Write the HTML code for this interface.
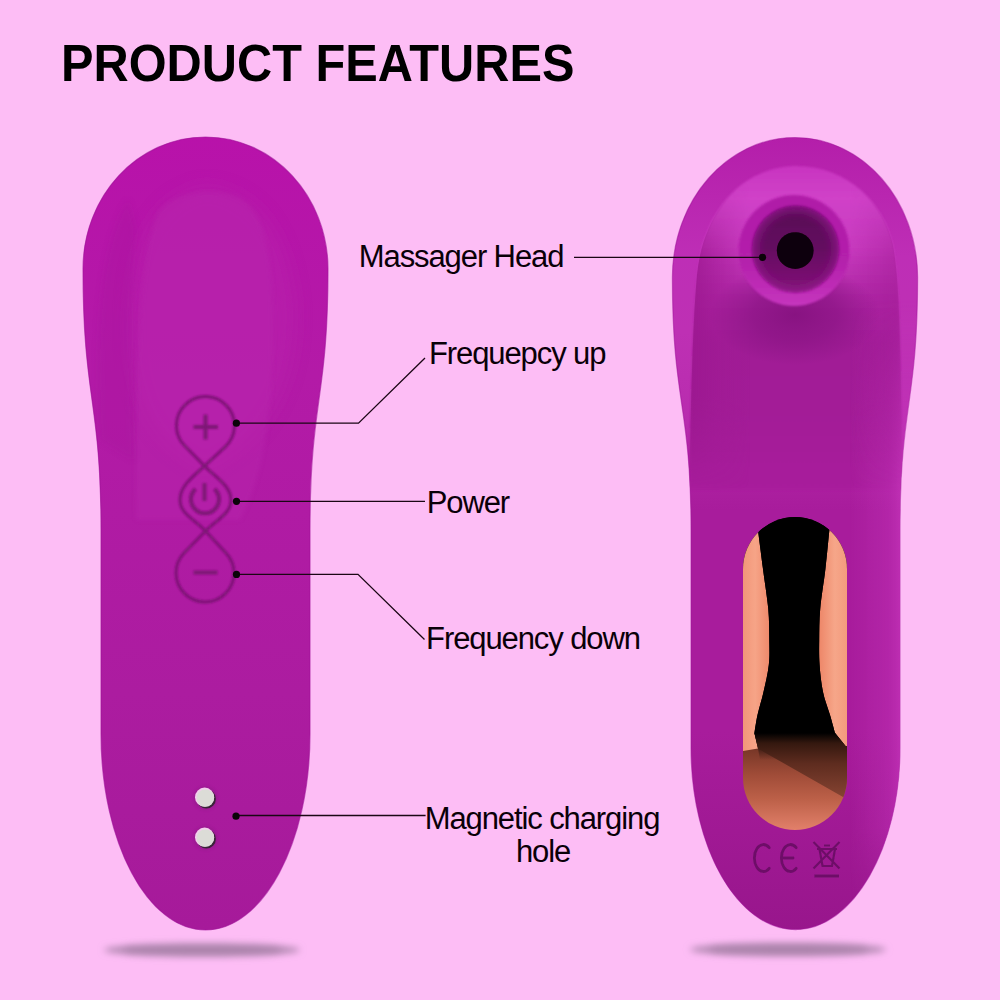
<!DOCTYPE html>
<html><head><meta charset="utf-8"><style>
html,body{margin:0;padding:0;width:1000px;height:1000px;overflow:hidden;background:#fdbdf5;}
.t{position:absolute;left:61.1px;top:36.9px;font:bold 52px/1 'Liberation Sans', sans-serif;color:#000;white-space:nowrap;transform:scaleX(0.937);transform-origin:0 0;}
.lb{position:absolute;font:31px/1 'Liberation Sans', sans-serif;letter-spacing:-1.1px;color:#0a0008;white-space:nowrap;}
svg{position:absolute;left:0;top:0;}
</style></head><body>
<svg width="1000" height="1000" viewBox="0 0 1000 1000">
<defs>
 <filter id="sh" x="-50%" y="-300%" width="200%" height="700%"><feGaussianBlur stdDeviation="3.5"/></filter>
 <filter id="b3" x="-30%" y="-30%" width="160%" height="160%"><feGaussianBlur stdDeviation="3"/></filter>
 <filter id="b2" x="-30%" y="-30%" width="160%" height="160%"><feGaussianBlur stdDeviation="2"/></filter>
 <filter id="b05" x="-30%" y="-30%" width="160%" height="160%"><feGaussianBlur stdDeviation="0.5"/></filter>
 <filter id="b15" x="-50%" y="-50%" width="200%" height="200%"><feGaussianBlur stdDeviation="1.5"/></filter>
 <filter id="b1" x="-50%" y="-50%" width="200%" height="200%"><feGaussianBlur stdDeviation="0.8"/></filter>
 <filter id="b8" x="-50%" y="-50%" width="200%" height="200%"><feGaussianBlur stdDeviation="8"/></filter>
 <linearGradient id="lg" x1="0" y1="137" x2="0" y2="930" gradientUnits="userSpaceOnUse">
  <stop offset="0" stop-color="#b812aa"/><stop offset="0.3" stop-color="#b31aa7"/><stop offset="0.7" stop-color="#ac1ca0"/><stop offset="1" stop-color="#a61a9a"/>
 </linearGradient>
 <linearGradient id="rg" x1="0" y1="137" x2="0" y2="930" gradientUnits="userSpaceOnUse">
  <stop offset="0" stop-color="#b41eaa"/><stop offset="0.15" stop-color="#be2eb6"/><stop offset="0.245" stop-color="#be30b4"/><stop offset="0.36" stop-color="#b82cae"/><stop offset="0.42" stop-color="#ae22a2"/><stop offset="0.47" stop-color="#a81c9c"/><stop offset="0.75" stop-color="#a81c9c"/><stop offset="1" stop-color="#98168c"/>
 </linearGradient>
 <linearGradient id="lipg" x1="0" y1="166" x2="0" y2="490" gradientUnits="userSpaceOnUse">
  <stop offset="0" stop-color="#c834c0"/><stop offset="0.1" stop-color="#d042c8"/><stop offset="0.25" stop-color="#c83abf"/><stop offset="0.4" stop-color="#b028a6"/><stop offset="0.55" stop-color="#a01c96"/><stop offset="0.8" stop-color="#a41b98"/><stop offset="1" stop-color="#a81c9c"/>
 </linearGradient>
 <linearGradient id="ringO" x1="0" y1="195" x2="0" y2="307" gradientUnits="userSpaceOnUse">
  <stop offset="0" stop-color="#b01ea8"/><stop offset="0.6" stop-color="#b420ac"/><stop offset="1" stop-color="#c636be"/>
 </linearGradient>
 <radialGradient id="darkblob" cx="0.5" cy="0.5" r="0.5">
  <stop offset="0" stop-color="#861280" stop-opacity="0.95"/><stop offset="0.5" stop-color="#8a1484" stop-opacity="0.7"/><stop offset="1" stop-color="#8a1484" stop-opacity="0"/>
 </radialGradient>
 <linearGradient id="rhl" x1="850" y1="0" x2="902" y2="0" gradientUnits="userSpaceOnUse">
  <stop offset="0" stop-color="#c232b8" stop-opacity="0"/><stop offset="0.75" stop-color="#c232b8" stop-opacity="0.45"/><stop offset="1" stop-color="#c838be" stop-opacity="0.7"/>
 </linearGradient>
 <linearGradient id="lsh" x1="690" y1="0" x2="725" y2="0" gradientUnits="userSpaceOnUse">
  <stop offset="0" stop-color="#8e1484" stop-opacity="0.5"/><stop offset="1" stop-color="#8e1484" stop-opacity="0"/>
 </linearGradient>
 <linearGradient id="ringL" x1="0" y1="206" x2="0" y2="292" gradientUnits="userSpaceOnUse">
  <stop offset="0" stop-color="#560654"/><stop offset="0.5" stop-color="#640a60"/><stop offset="1" stop-color="#821478"/>
 </linearGradient>
 <radialGradient id="ring" cx="795.5" cy="249.2" r="43" gradientUnits="userSpaceOnUse">
  <stop offset="0.7" stop-color="#7a0e74" stop-opacity="0"/><stop offset="1" stop-color="#9a1894" stop-opacity="0.7"/>
 </radialGradient>
 <linearGradient id="floor" x1="0" y1="733" x2="0" y2="830" gradientUnits="userSpaceOnUse">
  <stop offset="0" stop-color="#000"/><stop offset="0.18" stop-color="#7a3828"/><stop offset="0.43" stop-color="#a04c38"/><stop offset="0.68" stop-color="#bc6048"/><stop offset="1" stop-color="#e2806a"/>
 </linearGradient>
 <linearGradient id="floorD" x1="0" y1="733" x2="0" y2="801" gradientUnits="userSpaceOnUse">
  <stop offset="0" stop-color="#000"/><stop offset="0.15" stop-color="#34180f"/><stop offset="0.45" stop-color="#5e2c1f"/><stop offset="1" stop-color="#8a4634"/>
 </linearGradient>
 <linearGradient id="blk" x1="0" y1="500" x2="0" y2="760" gradientUnits="userSpaceOnUse">
  <stop offset="0" stop-color="#000"/><stop offset="0.9" stop-color="#000"/><stop offset="1" stop-color="#000" stop-opacity="0"/>
 </linearGradient>
 <linearGradient id="peachL" x1="743" y1="0" x2="770" y2="0" gradientUnits="userSpaceOnUse">
  <stop offset="0" stop-color="#f29679"/><stop offset="0.45" stop-color="#f6a487"/><stop offset="1" stop-color="#ee886a"/>
 </linearGradient>
 <linearGradient id="peachR" x1="820" y1="0" x2="847" y2="0" gradientUnits="userSpaceOnUse">
  <stop offset="0" stop-color="#ee886a"/><stop offset="0.55" stop-color="#f6a689"/><stop offset="1" stop-color="#f39a7d"/>
 </linearGradient>
 <radialGradient id="mag" cx="0.42" cy="0.4" r="0.62">
  <stop offset="0" stop-color="#f4f2ee"/><stop offset="0.65" stop-color="#dcd8d4"/><stop offset="0.85" stop-color="#a89ca4"/><stop offset="1" stop-color="#5a4658"/>
 </radialGradient>
 <linearGradient id="vm" x1="0" y1="300" x2="0" y2="920" gradientUnits="userSpaceOnUse">
  <stop offset="0" stop-color="#fff" stop-opacity="0"/><stop offset="0.3" stop-color="#fff" stop-opacity="1"/><stop offset="0.85" stop-color="#fff" stop-opacity="1"/><stop offset="1" stop-color="#fff" stop-opacity="0"/>
 </linearGradient>
 <mask id="vmask" maskUnits="userSpaceOnUse" x="0" y="0" width="1000" height="1000"><rect x="0" y="300" width="1000" height="620" fill="url(#vm)"/></mask>
 <clipPath id="lipclip"><path d="M689,490 C691,420 692,330 697,275 C702,220 735,168 795,166 C850,166 884,205 893,245 C900,285 900,340 903,490 Z"/></clipPath>
 <linearGradient id="sideL" x1="694" y1="0" x2="750" y2="0" gradientUnits="userSpaceOnUse">
  <stop offset="0" stop-color="#9c1890" stop-opacity="0.85"/><stop offset="0.5" stop-color="#a01a94" stop-opacity="0.45"/><stop offset="1" stop-color="#a01a94" stop-opacity="0"/>
 </linearGradient>
 <linearGradient id="sideR" x1="900" y1="0" x2="850" y2="0" gradientUnits="userSpaceOnUse">
  <stop offset="0" stop-color="#a41c98" stop-opacity="0.6"/><stop offset="0.5" stop-color="#a41c98" stop-opacity="0.3"/><stop offset="1" stop-color="#a41c98" stop-opacity="0"/>
 </linearGradient>
 <linearGradient id="sm" x1="0" y1="180" x2="0" y2="490" gradientUnits="userSpaceOnUse">
  <stop offset="0" stop-color="#fff" stop-opacity="0"/><stop offset="0.25" stop-color="#fff" stop-opacity="1"/><stop offset="0.7" stop-color="#fff" stop-opacity="1"/><stop offset="1" stop-color="#fff" stop-opacity="0"/>
 </linearGradient>
 <mask id="smask" maskUnits="userSpaceOnUse" x="0" y="0" width="1000" height="1000"><rect x="0" y="150" width="1000" height="360" fill="url(#sm)"/></mask>
 <clipPath id="win"><rect x="743" y="517" width="104" height="313" rx="52" ry="52"/></clipPath>
 <clipPath id="rclip"><path d="M672.4,277.5 C672.4,200.2 727.3,137.5 795.0,137.5 C862.7,137.5 917.6,200.2 917.6,277.5 C917.6,403.8 900.0,403.8 900.0,530.0 L900.0,747.6 C900.0,848.1 853.2,929.6 795.5,929.6 C737.8,929.6 691.0,848.1 691.0,747.6 L691.0,530.0 C691.0,403.8 672.4,403.8 672.4,277.5Z"/></clipPath>
 <clipPath id="lclip"><path d="M83.0,269.0 C83.0,196.1 137.8,137.0 205.5,137.0 C273.2,137.0 328.0,196.1 328.0,269.0 C328.0,399.5 310.0,399.5 310.0,530.0 L310.0,734.0 C310.0,842.3 263.2,930.0 205.5,930.0 C147.8,930.0 101.0,842.3 101.0,734.0 L101.0,530.0 C101.0,399.5 83.0,399.5 83.0,269.0Z"/></clipPath>
</defs>
<!-- shadows -->
<ellipse cx="202" cy="950" rx="98" ry="6.5" fill="#ae86ae" filter="url(#sh)"/><rect x="125" y="946" width="155" height="8" rx="4" fill="#a47ca4" opacity="0.35" filter="url(#sh)"/>
<ellipse cx="788" cy="949.5" rx="98" ry="6.5" fill="#ae86ae" filter="url(#sh)"/><rect x="711" y="945.5" width="155" height="8" rx="4" fill="#a47ca4" opacity="0.35" filter="url(#sh)"/>
<!-- left device -->
<path d="M83.0,269.0 C83.0,196.1 137.8,137.0 205.5,137.0 C273.2,137.0 328.0,196.1 328.0,269.0 C328.0,399.5 310.0,399.5 310.0,530.0 L310.0,734.0 C310.0,842.3 263.2,930.0 205.5,930.0 C147.8,930.0 101.0,842.3 101.0,734.0 L101.0,530.0 C101.0,399.5 83.0,399.5 83.0,269.0Z" fill="url(#lg)" stroke="#a0129a" stroke-width="1.2" stroke-opacity="0.6"/>
<g clip-path="url(#lclip)">
 <path d="M130,300 C135,230 160,195 205,185 C250,190 285,220 295,300 C300,380 270,440 205,470 C140,440 125,380 130,300Z" fill="#b824ac" opacity="0.5" filter="url(#b8)"/>
</g>
<g clip-path="url(#lclip)">
 <path d="M136,520 C134,400 137,260 158,212 C172,192 215,186 240,198 C264,212 273,250 273,330 C273,420 262,480 240,520 Z" fill="#b828ad" opacity="0.45" filter="url(#b2)"/>
 <path d="M100,440 C95,340 98,250 128,200 L136,230 C128,290 130,380 134,460 Z" fill="#a8169e" opacity="0.35" filter="url(#b3)"/>
</g>
<path d="M184.7,445.8 L204.5,466.0 C215.7,477.5 231,486 231,500 C231,514 216.7,519.6 205.5,531.0 L184.3,552.7 A29,29 0 1 0 226.2,553.2 L205.5,531.0 C194.6,519.3 180,514 180,500 C180,486 192.8,476.9 204.5,466.0 L225.2,446.8 A29,29 0 1 0 184.7,445.8Z" fill="none" stroke="#7e1276" stroke-width="3" filter="url(#b1)"/>
<g stroke="#7e1276" stroke-width="4" fill="none" filter="url(#b1)">
 <path d="M193.5,427 H218 M205.5,414.5 V439.5"/>
 <path d="M204.5,483 V501"/>
 <path d="M195.5,489 A14,14 0 1 0 214.5,489"/>
 <path d="M193.5,572.5 H217.5"/>
</g>
<circle cx="205.4" cy="798" r="12" fill="#8c1284" opacity="0.45" filter="url(#b15)"/>
<circle cx="206.3" cy="798.9" r="9.6" fill="#3a2438"/>
<circle cx="204.6" cy="797.2" r="9.6" fill="#f2cdec"/>
<circle cx="205.4" cy="798" r="8.7" fill="#dcdcd7"/>
<circle cx="205.4" cy="838" r="12" fill="#8c1284" opacity="0.45" filter="url(#b15)"/>
<circle cx="206.3" cy="838.9" r="9.6" fill="#3a2438"/>
<circle cx="204.6" cy="837.2" r="9.6" fill="#f2cdec"/>
<circle cx="205.4" cy="838" r="8.7" fill="#dcdcd7"/>

<!-- right device -->
<path d="M672.4,277.5 C672.4,200.2 727.3,137.5 795.0,137.5 C862.7,137.5 917.6,200.2 917.6,277.5 C917.6,403.8 900.0,403.8 900.0,530.0 L900.0,747.6 C900.0,848.1 853.2,929.6 795.5,929.6 C737.8,929.6 691.0,848.1 691.0,747.6 L691.0,530.0 C691.0,403.8 672.4,403.8 672.4,277.5Z" fill="url(#rg)" stroke="#a0129a" stroke-width="1.2" stroke-opacity="0.5"/>
<g clip-path="url(#rclip)">
 <path d="M689,490 C691,420 692,330 697,275 C702,220 735,168 795,166 C850,166 884,205 893,245 C900,285 900,340 903,490 Z" fill="url(#lipg)" filter="url(#b1)"/>
 <g clip-path="url(#lipclip)" mask="url(#smask)">
  <rect x="680" y="150" width="80" height="350" fill="url(#sideL)"/>
  <rect x="840" y="150" width="70" height="350" fill="url(#sideR)"/>
 </g>
 <g mask="url(#vmask)"><rect x="840" y="300" width="80" height="620" fill="url(#rhl)"/></g>
</g>
<!-- head rings -->
<g clip-path="url(#rclip)"><ellipse cx="795" cy="315" rx="85" ry="50" fill="url(#darkblob)"/></g>
<circle cx="794" cy="250.5" r="55.5" fill="url(#ringO)" filter="url(#b1)"/>
<circle cx="795.5" cy="249.2" r="43" fill="url(#ringL)" filter="url(#b15)"/>
<circle cx="795.5" cy="249.2" r="43" fill="url(#ring)" filter="url(#b15)"/>
<circle cx="795.2" cy="250.6" r="18.4" fill="#0a0408" filter="url(#b05)"/>
<!-- window -->
<g clip-path="url(#win)">
 <rect x="740" y="510" width="110" height="325" fill="url(#floor)"/>
 <path d="M740,500 L758,500 L758,530 C758.8,536.5 761.3,555.8 763.0,569.0 C764.7,582.2 767.2,597.2 768.3,609.0 C769.3,620.8 769.2,630.7 769.3,640.0 C769.4,649.3 769.8,656.3 768.8,665.0 C767.8,673.7 765.4,683.7 763.5,692.0 C761.6,700.3 759.0,708.2 757.5,715.0 C756.0,721.8 754.9,730.0 754.4,733.0 L758,748.6 L740,751.5 Z" fill="url(#peachL)"/>
 <path d="M829.4,500 L850,500 L850,747 L845.6,746 L835,733 C834.2,730.0 832.0,721.8 830.0,715.0 C828.0,708.2 824.7,700.3 823.0,692.0 C821.3,683.7 820.2,673.7 819.6,665.0 C819.0,656.3 819.1,649.3 819.2,640.0 C819.3,630.7 819.2,620.8 820.2,609.0 C821.2,597.2 823.9,582.2 825.4,569.0 C826.9,555.8 828.7,536.3 829.4,529.8 L829.4,500 Z" fill="url(#peachR)"/>
 <path d="M750,500 L840,500 L829.4,529.8 C828.7,536.3 826.9,555.8 825.4,569.0 C823.9,582.2 821.2,597.2 820.2,609.0 C819.2,620.8 819.3,630.7 819.2,640.0 C819.1,649.3 819.0,656.3 819.6,665.0 C820.2,673.7 821.3,683.7 823.0,692.0 C824.7,700.3 828.0,708.2 830.0,715.0 C832.0,721.8 834.2,730.0 835.0,733.0 L845.6,746 L850,747 L850,760 L760,760 L758,748.6 L754.4,733 C754.9,730.0 756.0,721.8 757.5,715.0 C759.0,708.2 761.6,700.3 763.5,692.0 C765.4,683.7 767.8,673.7 768.8,665.0 C769.8,656.3 769.4,649.3 769.3,640.0 C769.2,630.7 769.3,620.8 768.3,609.0 C767.2,597.2 764.7,582.2 763.0,569.0 C761.3,555.8 758.8,536.5 758.0,530.0 Z" fill="url(#blk)"/>
 <path d="M758,748.6 L850,801 L850,746 L845.6,746 L835,733 L754.4,733 Z" fill="url(#floorD)"/>
</g>
<!-- CE / WEEE -->
<g stroke="#6e1068" stroke-width="2.8" fill="none" filter="url(#b05)" stroke-linecap="round">
 <path d="M769.2,847.7 A9,13.5 0 1 0 769.2,868.3"/>
 <path d="M796.2,847.7 A9,13.5 0 1 0 796.2,868.3 M784,858 H793"/>
</g>
<g stroke="#6e1068" stroke-width="2.2" fill="none" filter="url(#b05)">
 <path d="M817,849 H837 M819.5,849 L822.5,866 H832 L835,849 M824,845.5 H830 M813.5,842 L839.5,868.5 M839.5,842 L813.5,868.5"/>
 <path d="M814.4,876 H839" stroke-width="3"/>
</g>
<!-- lines -->
<g stroke="#1a0614" stroke-width="1.3" fill="none">
 <path d="M574,257.4 H762.5"/>
 <path d="M236.5,423.2 H358.5 L425,358"/>
 <path d="M236.5,501.4 H425"/>
 <path d="M236.5,574.3 H358 L424.5,639.5"/>
 <path d="M236,815.5 H425.6"/>
</g>
<g fill="#0a0408">
 <circle cx="762.5" cy="257.3" r="3.6"/>
 <circle cx="236.4" cy="423.2" r="3.6"/>
 <circle cx="236.5" cy="501.3" r="3.6"/>
 <circle cx="236.5" cy="574.4" r="3.6"/>
 <circle cx="236" cy="816.2" r="3.6"/>
</g>
</svg>
<div class="t">PRODUCT FEATURES</div>
<div class="lb" style="left:358.8px;top:241.2px">Massager Head</div><div class="lb" style="left:429.0px;top:337.8px">Frequepcy up</div><div class="lb" style="left:426.7px;top:486.5px">Power</div><div class="lb" style="left:426.1px;top:623.0px">Frequency down</div><div class="lb" style="left:424.7px;top:802.7px">Magnetic charging</div><div class="lb" style="left:515.9px;top:836.2px">hole</div>
</body></html>
